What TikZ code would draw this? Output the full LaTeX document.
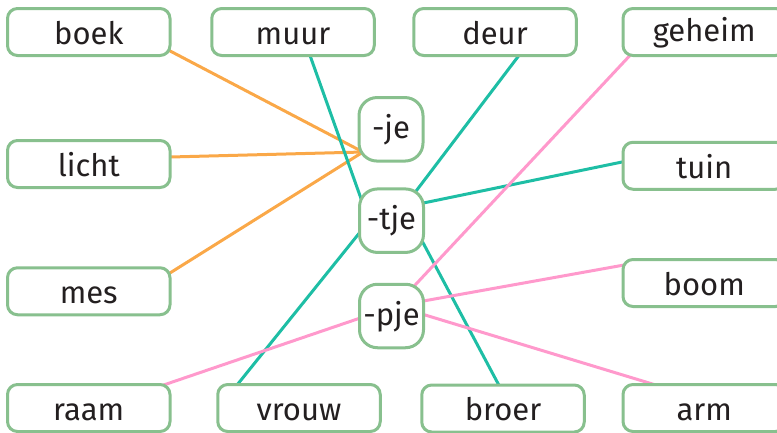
\documentclass[tikz,border=0pt]{standalone}
\usepackage{fontspec}
\setmainfont{Fira Sans}
\usepackage{tikz}
\usetikzlibrary{backgrounds}
\definecolor{boxgreen}{RGB}{136,192,142}
\definecolor{inkgray}{RGB}{35,31,32}
\definecolor{jeorange}{RGB}{250,168,72}
\definecolor{tjeteal}{RGB}{30,190,165}
\definecolor{pjepink}{RGB}{255,153,204}

\begin{document}
\begin{tikzpicture}[x=1pt,y=-1pt,
		word/.style={draw=boxgreen,line width=3pt,fill=white,rounded corners=10pt,
			minimum width=162.5pt,minimum height=47pt,inner sep=0pt,text=inkgray,
			text height=25pt,font=\fontsize{31}{37}\selectfont},
		suffix/.style={word,rounded corners=18pt,minimum width=64pt,minimum height=63.5pt},
		jeline/.style={draw=jeorange,line width=3pt},
		tjeline/.style={draw=tjeteal,line width=3pt},
		pjeline/.style={draw=pjepink,line width=3pt}]

		\useasboundingbox (0,0) rectangle (777,432);
		\clip (0,0) rectangle (777,432);

		% words, left to right and top to bottom
		\node[word] (boek) at (88.75,32) {boek};
		\node[word] (muur) at (293,32) {muur};
		\node[word] (deur) at (495,32) {deur};
		\node[word] (geheim) at (704.25,32) {geheim};
		\node[word] (licht) at (88.75,164) {licht};
		\node[word] (tuin) at (704.25,165.75) {tuin};
		\node[word] (mes) at (88.75,291.25) {mes};
		\node[word] (boom) at (704.25,283) {boom};
		\node[word] (raam) at (88.75,408) {raam};
		\node[word] (vrouw) at (299,408) {vrouw};
		\node[word] (broer) at (503,408.5) {broer};
		\node[word] (arm) at (704.25,408) {arm};

		% suffixes
		\node[suffix] (je) at (391,129.3) {-je};
		\node[suffix] (tje) at (391.5,220.7) {-tje};
		\node[suffix] (pje) at (391.5,316) {-pje};

		\coordinate (je in) at ([shift={(-28,22.7)}]je.center);
		\coordinate (tje l) at ([shift={(-22.5,0.3)}]tje.center);
		\coordinate (tje r) at ([shift={(12.5,-13.7)}]tje.center);
		\coordinate (pje in) at ([shift={(4,-10)}]pje.center);

		\begin{scope}[on background layer]
		\draw[jeline] ([shift={(68,12)}]boek.center) -- (je in);
		\draw[jeline] ([shift={(66,-6.6)}]licht.center) -- (je in);
		\draw[jeline] ([shift={(68.5,-10.3)}]mes.center) -- (je in);

		\draw[tjeline] ([shift={(12,9.4)}]muur.center) -- (tje l);
		\draw[tjeline] ([shift={(-70,-13)}]vrouw.center) -- (tje l);
		\draw[tjeline] ([shift={(33,11.5)}]deur.center) -- (tje r);
		\draw[tjeline] ([shift={(-66.5,-7)}]tuin.center) -- (tje r);
		\draw[tjeline] ([shift={(2.3,-11.3)}]broer.center) -- (tje r);

		\draw[pjeline] ([shift={(-65.75,14.3)}]geheim.center) -- (pje in);
		\draw[pjeline] ([shift={(-69,-20)}]boom.center) -- (pje in);
		\draw[pjeline] ([shift={(-38.6,-20)}]arm.center) -- (pje in);
		\draw[pjeline] ([shift={(63.75,-19.2)}]raam.center) -- (pje in);
		\end{scope}

\end{tikzpicture}
\end{document}
